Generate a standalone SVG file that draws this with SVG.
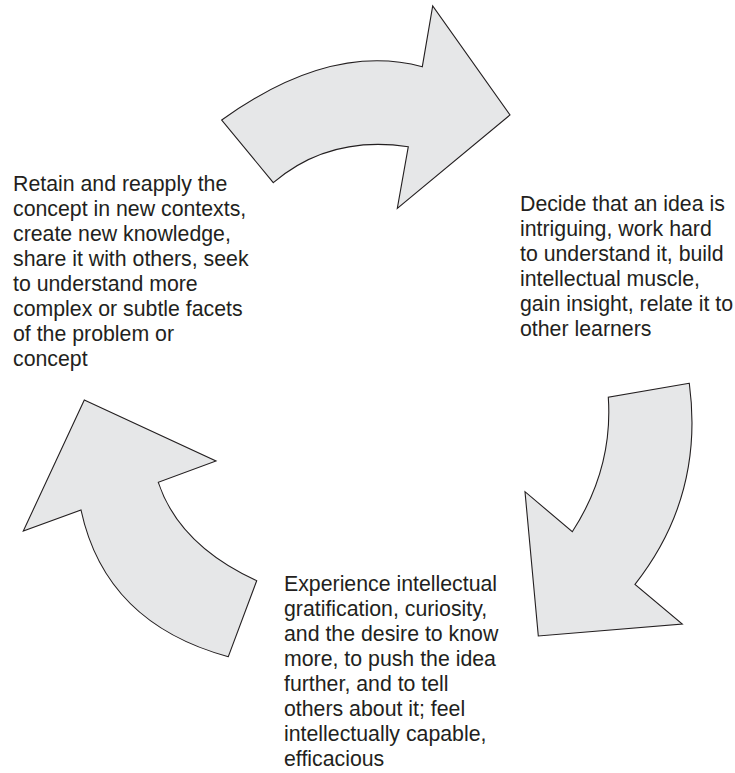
<svg xmlns="http://www.w3.org/2000/svg" width="735" height="773" viewBox="0 0 735 773">
  <style>
    .arrow { fill: #e6e7e8; stroke: #231f20; stroke-width: 1.1; stroke-linejoin: miter; }
    .label { font-family: "Liberation Sans", Arial, Helvetica, sans-serif; font-size: 21.3px; fill: #231f20; }
  </style>
  <rect width="735" height="773" fill="#ffffff"/>
  <g id="connectors">
    <path id="arrow-top" class="arrow" d="M 221.7,120 Q 330,42 422.3,66.7 L 432.7,6 L 510,115 L 397.3,208.3 L 408.3,146.7 Q 329,135 273.3,182.7 Z"/>
    <path id="arrow-right" class="arrow" d="M 689.3,383.3 L 608.3,397.3 Q 613.1,468.9 572.3,531.7 L 525,491.7 L 538.3,636 L 682.3,624 L 635,584.3 Q 704.4,496.2 689.3,383.3 Z"/>
    <path id="arrow-left" class="arrow" d="M 84.3,400 L 216,461 L 158.3,482.3 Q 179.1,545.1 256.7,580.7 L 228.3,656.7 Q 105.4,623.2 81,510 L 23.3,531 Z"/>
  </g>
  <g id="node-retain">
    <text class="label" x="13" y="191">
      <tspan x="13" y="191">Retain and reapply the</tspan>
      <tspan x="13" y="216">concept in new contexts,</tspan>
      <tspan x="13" y="241">create new knowledge,</tspan>
      <tspan x="13" y="266">share it with others, seek</tspan>
      <tspan x="13" y="291">to understand more</tspan>
      <tspan x="13" y="316">complex or subtle facets</tspan>
      <tspan x="13" y="341">of the problem or</tspan>
      <tspan x="13" y="366">concept</tspan>
    </text>
  </g>
  <g id="node-decide">
    <text class="label" x="520" y="211">
      <tspan x="520" y="211">Decide that an idea is</tspan>
      <tspan x="520" y="236">intriguing, work hard</tspan>
      <tspan x="520" y="261">to understand it, build</tspan>
      <tspan x="520" y="286">intellectual muscle,</tspan>
      <tspan x="520" y="311">gain insight, relate it to</tspan>
      <tspan x="520" y="336">other learners</tspan>
    </text>
  </g>
  <g id="node-experience">
    <text class="label" x="284" y="591">
      <tspan x="284" y="591">Experience intellectual</tspan>
      <tspan x="284" y="616">gratification, curiosity,</tspan>
      <tspan x="284" y="641">and the desire to know</tspan>
      <tspan x="284" y="666">more, to push the idea</tspan>
      <tspan x="284" y="691">further, and to tell</tspan>
      <tspan x="284" y="716">others about it; feel</tspan>
      <tspan x="284" y="741">intellectually capable,</tspan>
      <tspan x="284" y="766">efficacious</tspan>
    </text>
  </g>
</svg>
